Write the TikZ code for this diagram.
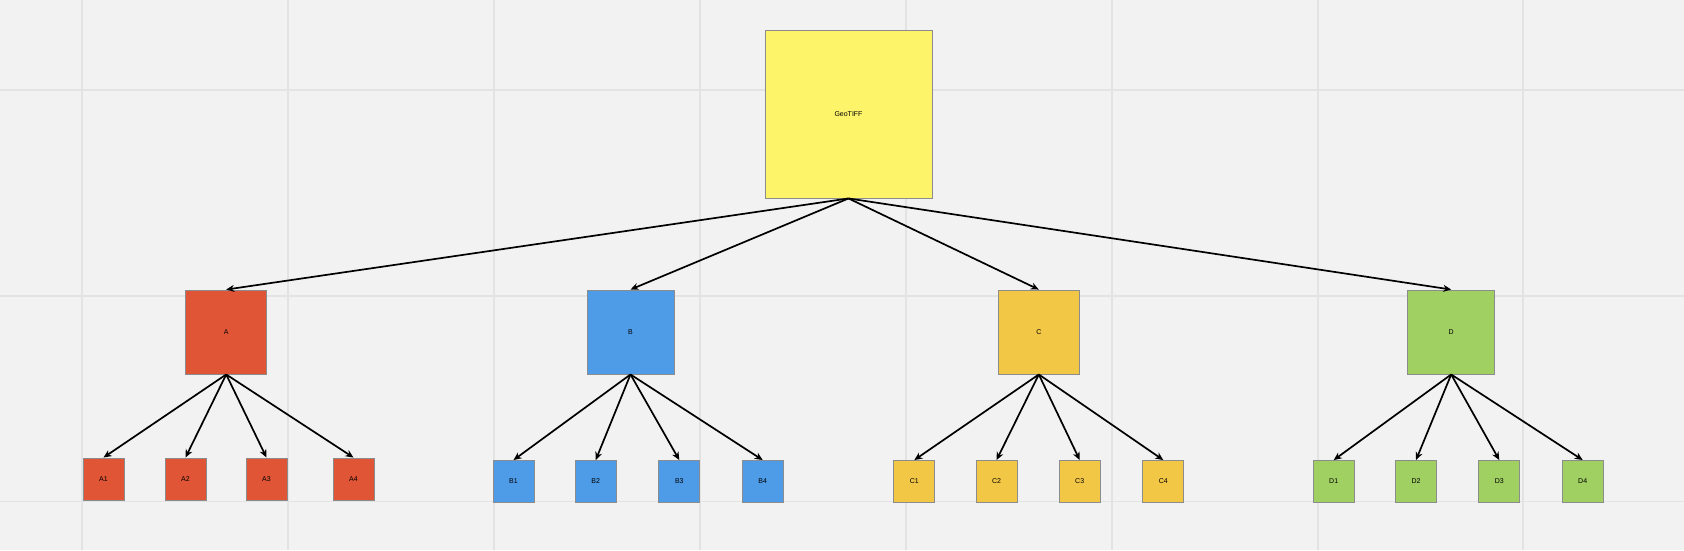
\documentclass[tikz,border=0pt]{standalone}
\usepackage{fontspec}
\setmainfont{Liberation Sans}
\usetikzlibrary{arrows.meta}
\definecolor{canvas}{HTML}{F2F2F2}
\definecolor{gridgray}{HTML}{E3E3E3}
\definecolor{edgegray}{HTML}{8C8C8C}
\definecolor{rootyellow}{HTML}{FDF46A}
\definecolor{redA}{HTML}{E05536}
\definecolor{blueB}{HTML}{4E9BE7}
\definecolor{yellowC}{HTML}{F3C746}
\definecolor{greenD}{HTML}{A0CF62}

\begin{document}
\begin{tikzpicture}[
    x=1pt, y=-1pt,
    rootbox/.style={rectangle, draw=edgegray, line width=0.9pt, inner sep=0pt, minimum width=167pt, minimum height=168pt, fill=rootyellow, font=\fontsize{7}{8}\selectfont},
    parentbox/.style={rectangle, draw=edgegray, line width=0.9pt, inner sep=0pt, minimum width=81pt, minimum height=84pt, font=\fontsize{7}{8}\selectfont},
    leafbox/.style={rectangle, draw=edgegray, line width=0.9pt, inner sep=0pt, minimum width=41pt, minimum height=42pt, font=\fontsize{7}{8}\selectfont},
    gridline/.style={gridgray, line width=1.3pt},
    arrow/.style={-{Stealth[length=8pt, width=7pt, inset=2.5pt]}, line width=1.7pt, black}
]
    % canvas and grid
    \fill[canvas] (0,0) rectangle (1684,550);
    \useasboundingbox (0,0) rectangle (1684,550);
    \foreach \gx in {82, 288, 494, 700, 906, 1112, 1318, 1523}
        \draw[gridline] (\gx,0) -- (\gx,550);
    \foreach \gy in {90, 296, 501.7}
        \draw[gridline] (0,\gy) -- (1684,\gy);

    % root
    \node[rootbox] (geotiff) at (848.5, 114) {GeoTIFF};

    % second level
    \node[parentbox, fill=redA] (a) at (226.2, 332) {A};
    \node[parentbox, fill=blueB, minimum width=87pt] (b) at (630.5, 332) {B};
    \node[parentbox, fill=yellowC] (c) at (1038.8, 332) {C};
    \node[parentbox, fill=greenD, minimum width=87pt] (d) at (1451.2, 332) {D};

    \draw[arrow] (geotiff.south) -- (a.north);
    \draw[arrow] (geotiff.south) -- (b.north);
    \draw[arrow] (geotiff.south) -- (c.north);
    \draw[arrow] (geotiff.south) -- (d.north);

    % leaves A
    \node[leafbox, fill=redA] (a1) at (103.5, 479) {A1};
    \node[leafbox, fill=redA] (a2) at (185.5, 479) {A2};
    \node[leafbox, fill=redA] (a3) at (266.5, 479) {A3};
    \node[leafbox, fill=redA] (a4) at (353.5, 479) {A4};

    % leaves B
    \node[leafbox, fill=blueB] (b1) at (513.5, 481.5) {B1};
    \node[leafbox, fill=blueB] (b2) at (595.7, 481.5) {B2};
    \node[leafbox, fill=blueB] (b3) at (679.3, 481.5) {B3};
    \node[leafbox, fill=blueB] (b4) at (762.7, 481.5) {B4};

    % leaves C
    \node[leafbox, fill=yellowC] (c1) at (914.3, 481.5) {C1};
    \node[leafbox, fill=yellowC] (c2) at (996.5, 481.5) {C2};
    \node[leafbox, fill=yellowC] (c3) at (1079.7, 481.5) {C3};
    \node[leafbox, fill=yellowC] (c4) at (1163.3, 481.5) {C4};

    % leaves D
    \node[leafbox, fill=greenD] (d1) at (1333.7, 481.5) {D1};
    \node[leafbox, fill=greenD] (d2) at (1416, 481.5) {D2};
    \node[leafbox, fill=greenD] (d3) at (1499.3, 481.5) {D3};
    \node[leafbox, fill=greenD] (d4) at (1582.7, 481.5) {D4};

    \draw[arrow] (a.south) -- (a1.north);
    \draw[arrow] (a.south) -- (a2.north);
    \draw[arrow] (a.south) -- (a3.north);
    \draw[arrow] (a.south) -- (a4.north);

    \draw[arrow] (b.south) -- (b1.north);
    \draw[arrow] (b.south) -- (b2.north);
    \draw[arrow] (b.south) -- (b3.north);
    \draw[arrow] (b.south) -- (b4.north);

    \draw[arrow] (c.south) -- (c1.north);
    \draw[arrow] (c.south) -- (c2.north);
    \draw[arrow] (c.south) -- (c3.north);
    \draw[arrow] (c.south) -- (c4.north);

    \draw[arrow] (d.south) -- (d1.north);
    \draw[arrow] (d.south) -- (d2.north);
    \draw[arrow] (d.south) -- (d3.north);
    \draw[arrow] (d.south) -- (d4.north);
\end{tikzpicture}
\end{document}
